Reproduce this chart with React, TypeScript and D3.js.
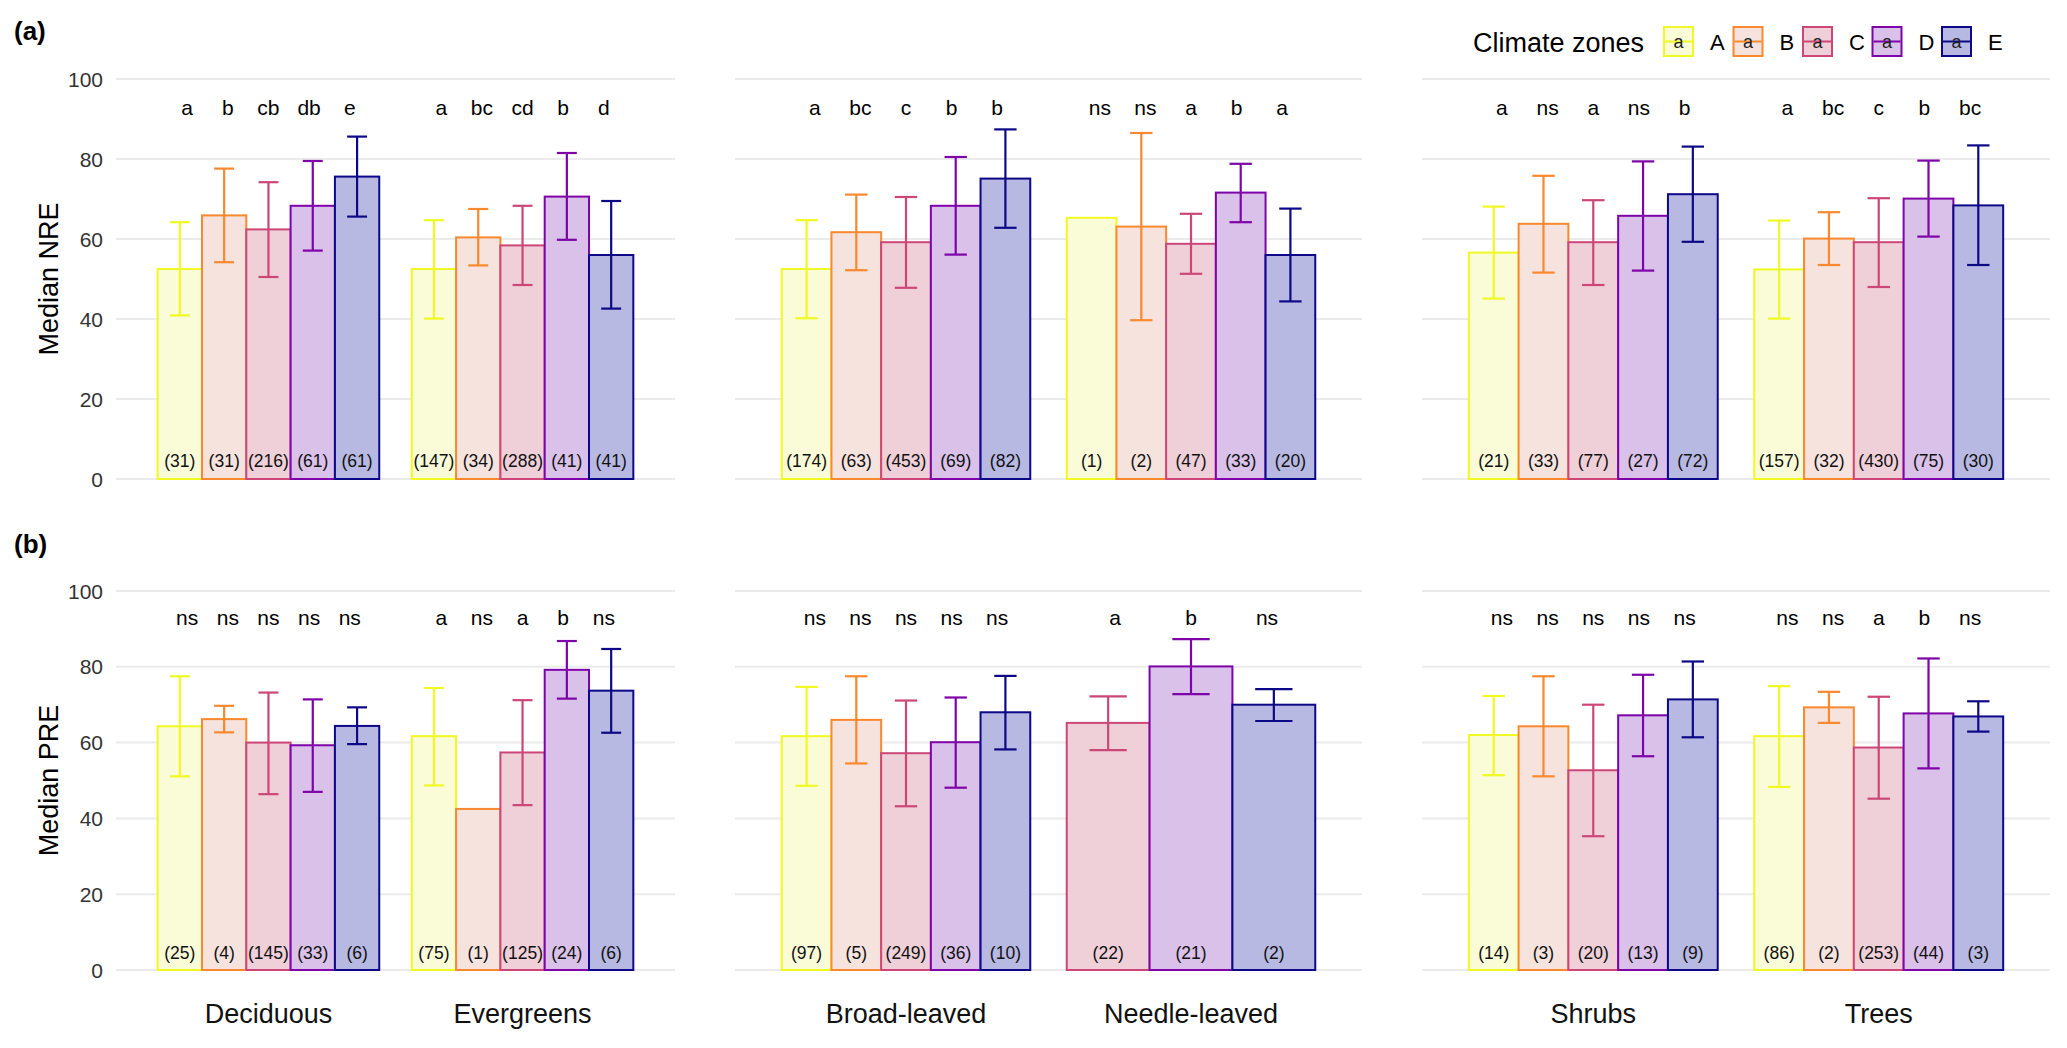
import { useEffect } from "react";
import * as d3 from "d3";

const W = 2067;
const H = 1048;
const FONT = "'Liberation Sans', Arial, Helvetica, sans-serif";

const zones = ["A", "B", "C", "D", "E"];
const zoneLine = ["#F0F921", "#F9882F", "#CC4778", "#7E03A8", "#0D0887"];
const zoneFill = ["#FAFCD8", "#F6E3DD", "#F0D0D8", "#D9C1E9", "#B8B9E2"];

const plots = [
  ["Deciduous", "Evergreens"],
  ["Broad-leaved", "Needle-leaved"],
  ["Shrubs", "Trees"],
];

// NRE, one row per group (Deciduous, Evergreens, Broad-leaved, Needle-leaved, Shrubs, Trees)
const nreMedian = [
  [52.5, 65.9, 62.4, 68.3, 75.6],
  [52.5, 60.4, 58.4, 70.6, 56.0],
  [52.5, 61.7, 59.2, 68.3, 75.1],
  [65.3, 63.1, 58.8, 71.6, 56.0],
  [56.6, 63.8, 59.2, 65.8, 71.2],
  [52.4, 60.1, 59.2, 70.1, 68.4],
];
const nreLow = [
  [40.9, 54.2, 50.5, 57.1, 65.6],
  [40.1, 53.4, 48.5, 59.8, 42.6],
  [40.2, 52.2, 47.8, 56.1, 62.8],
  [null, 39.7, 51.3, 64.2, 44.4],
  [45.1, 51.6, 48.5, 52.1, 59.3],
  [40.1, 53.5, 48.0, 60.6, 53.5],
];
const nreHigh = [
  [64.2, 77.6, 74.2, 79.5, 85.6],
  [64.7, 67.5, 68.3, 81.5, 69.5],
  [64.7, 71.1, 70.5, 80.5, 87.4],
  [null, 86.5, 66.3, 78.8, 67.6],
  [68.1, 75.8, 69.7, 79.4, 83.1],
  [64.6, 66.7, 70.2, 79.6, 83.4],
];
const nreN = [
  [31, 31, 216, 61, 61],
  [147, 34, 288, 41, 41],
  [174, 63, 453, 69, 82],
  [1, 2, 47, 33, 20],
  [21, 33, 77, 27, 72],
  [157, 32, 430, 75, 30],
];
const nreLetters = [
  ["a", "b", "cb", "db", "e"],
  ["a", "bc", "cd", "b", "d"],
  ["a", "bc", "c", "b", "b"],
  ["ns", "ns", "a", "b", "a"],
  ["a", "ns", "a", "ns", "b"],
  ["a", "bc", "c", "b", "bc"],
];

// PRE
const preMedian = [
  [64.3, 66.2, 60.0, 59.3, 64.4],
  [61.7, 42.5, 57.4, 79.2, 73.7],
  [61.7, 66.0, 57.2, 60.1, 68.0],
  [null, null, 65.2, 80.1, 70.0],
  [62.0, 64.3, 52.7, 67.2, 71.4],
  [61.7, 69.3, 58.7, 67.7, 66.9],
];
const preLow = [
  [51.1, 62.7, 46.4, 47.0, 59.6],
  [48.7, null, 43.5, 71.6, 62.6],
  [48.6, 54.5, 43.2, 48.1, 58.2],
  [null, null, 58.0, 72.8, 65.7],
  [51.4, 51.1, 35.3, 56.4, 61.4],
  [48.3, 65.2, 45.2, 53.2, 62.9],
];
const preHigh = [
  [77.5, 69.7, 73.2, 71.4, 69.3],
  [74.4, null, 71.2, 86.8, 84.7],
  [74.7, 77.5, 71.1, 71.9, 77.6],
  [null, null, 72.2, 87.3, 74.1],
  [72.3, 77.5, 70.0, 77.9, 81.4],
  [74.9, 73.4, 72.1, 82.2, 70.9],
];
const preN = [
  [25, 4, 145, 33, 6],
  [75, 1, 125, 24, 6],
  [97, 5, 249, 36, 10],
  [null, null, 22, 21, 2],
  [14, 3, 20, 13, 9],
  [86, 2, 253, 44, 3],
];
const preLetters = [
  ["ns", "ns", "ns", "ns", "ns"],
  ["a", "ns", "a", "b", "ns"],
  ["ns", "ns", "ns", "ns", "ns"],
  [null, null, "a", "b", "ns"],
  ["ns", "ns", "ns", "ns", "ns"],
  ["ns", "ns", "a", "b", "ns"],
];

const yTicks = [0, 20, 40, 60, 80, 100];

const panelX = [
  [116, 675],
  [735, 1362],
  [1422, 2050],
];

const rows = [
  {
    tag: "(a)",
    tagY: 40,
    title: "Median NRE",
    y0: 479,
    y100: 79,
    median: nreMedian,
    low: nreLow,
    high: nreHigh,
    n: nreN,
    letters: nreLetters,
  },
  {
    tag: "(b)",
    tagY: 553,
    title: "Median PRE",
    y0: 970,
    y100: 591,
    median: preMedian,
    low: preLow,
    high: preHigh,
    n: preN,
    letters: preLetters,
  },
];

const BAR_SPAN = 0.872;
const TEXT_SPAN = 0.8;

function Row({ row, showX }) {
  const y = d3.scaleLinear().domain([0, 100]).range([row.y0, row.y100]);
  return (
    <g>
      <text x={14} y={row.tagY} fontSize={26} fontWeight="bold" fill="#000">
        {row.tag}
      </text>
      <text
        transform={`translate(58, ${(row.y0 + row.y100) / 2}) rotate(-90)`}
        textAnchor="middle"
        fontSize={27}
        fill="#000"
      >
        {row.title}
      </text>
      {yTicks.map((t) => (
        <text
          key={t}
          x={103}
          y={y(t)}
          dy="0.36em"
          textAnchor="end"
          fontSize={21}
          fill="#333"
        >
          {t}
        </text>
      ))}
      {plots.map((cats, pi) => {
        const x = d3
          .scalePoint()
          .domain(cats)
          .range(panelX[pi])
          .padding(0.6);
        const step = x.step();
        return (
          <g key={pi}>
            {yTicks.map((t) => (
              <line
                key={t}
                x1={panelX[pi][0]}
                x2={panelX[pi][1]}
                y1={y(t)}
                y2={y(t)}
                stroke="#EBEBEB"
                strokeWidth={2}
              />
            ))}
            {cats.map((cat, ci) => {
              const gi = pi * 2 + ci;
              const c = x(cat);
              const present = zones.filter((_, zi) => row.median[gi][zi] != null);
              const bx = d3
                .scaleBand()
                .domain(present)
                .range([c - (BAR_SPAN * step) / 2, c + (BAR_SPAN * step) / 2]);
              const tx = d3
                .scaleBand()
                .domain(present)
                .range([c - (TEXT_SPAN * step) / 2, c + (TEXT_SPAN * step) / 2]);
              const bw = bx.bandwidth();
              const cap = bw * 0.45;
              return (
                <g key={cat}>
                  {present.map((z) => {
                    const zi = zones.indexOf(z);
                    const v = row.median[gi][zi];
                    return (
                      <rect
                        key={z}
                        x={bx(z)}
                        y={y(v)}
                        width={bw}
                        height={y(0) - y(v)}
                        fill={zoneFill[zi]}
                        stroke={zoneLine[zi]}
                        strokeWidth={2}
                      />
                    );
                  })}
                  {present.map((z) => {
                    const zi = zones.indexOf(z);
                    const lo = row.low[gi][zi];
                    const hi = row.high[gi][zi];
                    if (lo == null || hi == null) return null;
                    const cx = bx(z) + bw / 2;
                    return (
                      <g key={z} stroke={zoneLine[zi]} strokeWidth={2.2}>
                        <line x1={cx} x2={cx} y1={y(lo)} y2={y(hi)} />
                        <line x1={cx - cap / 2} x2={cx + cap / 2} y1={y(lo)} y2={y(lo)} />
                        <line x1={cx - cap / 2} x2={cx + cap / 2} y1={y(hi)} y2={y(hi)} />
                      </g>
                    );
                  })}
                  {present.map((z) => {
                    const zi = zones.indexOf(z);
                    return (
                      <text
                        key={z}
                        x={tx(z) + tx.bandwidth() / 2}
                        y={y(91)}
                        textAnchor="middle"
                        fontSize={21}
                        fill="#000"
                      >
                        {row.letters[gi][zi]}
                      </text>
                    );
                  })}
                  {present.map((z) => {
                    const zi = zones.indexOf(z);
                    return (
                      <text
                        key={z}
                        x={bx(z) + bw / 2}
                        y={y(3)}
                        textAnchor="middle"
                        fontSize={17.5}
                        fill="#111"
                      >
                        ({row.n[gi][zi]})
                      </text>
                    );
                  })}
                  {showX && (
                    <text
                      x={c}
                      y={1023}
                      textAnchor="middle"
                      fontSize={27}
                      fill="#111"
                    >
                      {cat}
                    </text>
                  )}
                </g>
              );
            })}
          </g>
        );
      })}
    </g>
  );
}

function Legend() {
  const lx = d3.scalePoint().domain(zones).range([1664, 1942]);
  const size = 29;
  const top = 27;
  return (
    <g>
      <text x={1473} y={52} fontSize={27} fill="#000">
        Climate zones
      </text>
      {zones.map((z, zi) => {
        const kx = lx(z);
        return (
          <g key={z}>
            <rect
              x={kx}
              y={top}
              width={size}
              height={size}
              fill={zoneFill[zi]}
              stroke={zoneLine[zi]}
              strokeWidth={2}
            />
            <line
              x1={kx + 1}
              x2={kx + size - 1}
              y1={top + size / 2}
              y2={top + size / 2}
              stroke={zoneLine[zi]}
              strokeWidth={2}
            />
            <text
              x={kx + size / 2}
              y={top + size / 2 + 6}
              textAnchor="middle"
              fontSize={18}
              fill="#222"
            >
              a
            </text>
            <text x={kx + 46} y={50} fontSize={22} fill="#000">
              {z}
            </text>
          </g>
        );
      })}
    </g>
  );
}

export default function App() {
  useEffect(() => {
    document.body.style.margin = "0";
  }, []);
  return (
    <svg
      width={W}
      height={H}
      viewBox={`0 0 ${W} ${H}`}
      style={{ display: "block", background: "#fff", fontFamily: FONT }}
    >
      <rect width={W} height={H} fill="#fff" />
      <Row row={rows[0]} showX={false} />
      <Row row={rows[1]} showX={true} />
      <Legend />
    </svg>
  );
}
